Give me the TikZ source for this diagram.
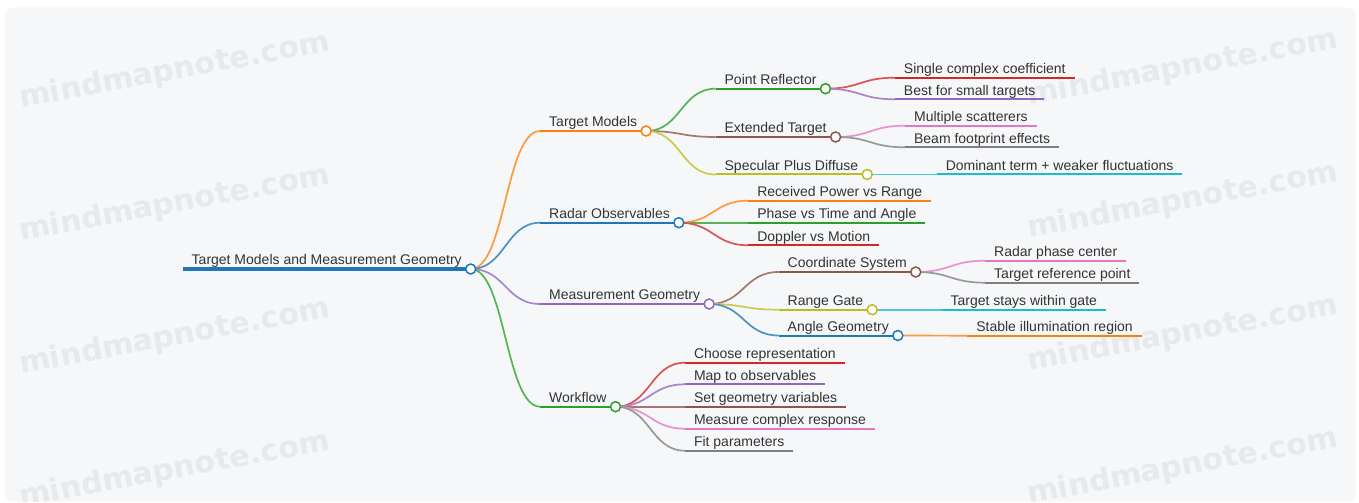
\documentclass[tikz,border=0pt]{standalone}
\usepackage{fontspec}
\setmainfont{Liberation Sans}
\newfontfamily\wmfont{DejaVu Sans}
\usetikzlibrary{calc}

% palette
\definecolor{c-blue}{HTML}{1F77B4}
\definecolor{c-orange}{HTML}{FF7F0E}
\definecolor{c-green}{HTML}{2CA02C}
\definecolor{c-red}{HTML}{D62728}
\definecolor{c-purple}{HTML}{9467BD}
\definecolor{c-brown}{HTML}{8C564B}
\definecolor{c-pink}{HTML}{E377C2}
\definecolor{c-gray}{HTML}{7F7F7F}
\definecolor{c-olive}{HTML}{BCBD22}
\definecolor{c-cyan}{HTML}{17BECF}
\definecolor{ink}{HTML}{333333}
\definecolor{paper}{HTML}{F6F7F9}
\definecolor{wmgray}{HTML}{E8E9EC}

\pgfdeclarelayer{front}
\pgfsetlayers{main,front}

\tikzset{
  mmtext/.style={anchor=base west, inner sep=0pt, outer sep=0pt,
    font=\fontsize{14bp}{16bp}\selectfont, text=ink},
  uline/.style={line width=2bp, line cap=butt},
  link/.style={line width=1.7bp},
  dot/.style={circle, draw, fill=white, line width=1.5bp,
    minimum size=10bp, inner sep=0pt},
  wm/.style={anchor=base west, inner sep=0pt, rotate=10.5, text=wmgray,
    font=\wmfont\fontsize{30bp}{32bp}\selectfont\bfseries},
}

% one topic: id, parent id, y of its underline, colour, label
\newcommand\mmtopic[5]{%
  \coordinate (#1-x) at ($(#2-c)+(69.5,0)$);
  \coordinate (#1-s) at (#1-x |- 0,#3);
  \node[mmtext] (#1) at ($(#1-s)+(9,-4.2)$) {#5};
  \coordinate (#1-t) at ($(#1.base east)+(9,0)$);
  \coordinate (#1-c) at (#1-t |- #1-s);
  \draw[link, draw=#4!80!white] let \p1=(#2-c), \p2=(#1-s) in
    (\p1) .. controls ({0.5*\x1+0.5*\x2},\y1) and ({0.5*\x1+0.5*\x2},\y2) .. (\p2);
  \draw[uline, draw=#4] (#1-s) -- (#1-c);
}
% knob at the end of a topic that has children
\newcommand\mmdot[2]{%
  \begin{pgfonlayer}{front}
    \node[dot, draw=#2] (#1-dot) at (#1-c) {};
  \end{pgfonlayer}%
}

\begin{document}
\begin{tikzpicture}[x=1bp, y=-1bp]
\useasboundingbox (0,0) rectangle (1359,503);

% canvas
\fill[paper, rounded corners=8bp] (5,7.5) rectangle (1356,501.5);
\begin{scope}
  \clip[rounded corners=8bp] (5,7.5) rectangle (1356,501.5);
  \foreach \r in {0,1,2,3} {
    \node[wm] (wm-l-\r) at (21,108+133*\r) {mindmapnote.com};
    \node[wm] (wm-r-\r) at (1029,105+133*\r) {mindmapnote.com};
  }
\end{scope}

% root
\coordinate (root-s) at (182.7,269);
\node[mmtext] (root) at ($(root-s)+(9,-4)$) {Target Models and Measurement Geometry};
\coordinate (root-t) at ($(root.base east)+(9,0)$);
\coordinate (root-c) at (root-t |- root-s);
\draw[line width=4bp, line cap=butt, draw=c-blue] (root-s) -- (root-c);

% target models
\mmtopic{tm}{root}{131}{c-orange}{Target Models}
\mmtopic{pr}{tm}{88.7}{c-green}{Point Reflector}
\mmtopic{scc}{pr}{77.7}{c-red}{Single complex coefficient}
\mmtopic{bst}{pr}{99.3}{c-purple}{Best for small targets}
\mmtopic{et}{tm}{137}{c-brown}{Extended Target}
\mmtopic{ms}{et}{125.7}{c-pink}{Multiple scatterers}
\mmtopic{bf}{et}{147.3}{c-gray}{Beam footprint effects}
\mmtopic{spd}{tm}{174.5}{c-olive}{Specular Plus Diffuse}
\mmtopic{dt}{spd}{174.5}{c-cyan}{Dominant term + weaker fluctuations}

% radar observables
\mmtopic{ro}{root}{222.7}{c-blue}{Radar Observables}
\mmtopic{rp}{ro}{200.7}{c-orange}{Received Power vs Range}
\mmtopic{pv}{ro}{222.7}{c-green}{Phase vs Time and Angle}
\mmtopic{dm}{ro}{245.3}{c-red}{Doppler vs Motion}

% measurement geometry
\mmtopic{mg}{root}{304}{c-purple}{Measurement Geometry}
\mmtopic{cs}{mg}{272}{c-brown}{Coordinate System}
\mmtopic{rpc}{cs}{260.7}{c-pink}{Radar phase center}
\mmtopic{trp}{cs}{282.7}{c-gray}{Target reference point}
\mmtopic{rg}{mg}{309.7}{c-olive}{Range Gate}
\mmtopic{tsg}{rg}{309.7}{c-cyan}{Target stays within gate}
\mmtopic{ag}{mg}{335.5}{c-blue}{Angle Geometry}
\mmtopic{sir}{ag}{335.7}{c-orange}{Stable illumination region}

% workflow
\mmtopic{wf}{root}{406.7}{c-green}{Workflow}
\mmtopic{cr}{wf}{362.7}{c-red}{Choose representation}
\mmtopic{mo}{wf}{384.3}{c-purple}{Map to observables}
\mmtopic{sg}{wf}{406.7}{c-brown}{Set geometry variables}
\mmtopic{mc}{wf}{428.7}{c-pink}{Measure complex response}
\mmtopic{fp}{wf}{450.7}{c-gray}{Fit parameters}

% knobs
\mmdot{root}{c-blue}
\mmdot{tm}{c-orange}
\mmdot{pr}{c-green}
\mmdot{et}{c-brown}
\mmdot{spd}{c-olive}
\mmdot{ro}{c-blue}
\mmdot{mg}{c-purple}
\mmdot{cs}{c-brown}
\mmdot{rg}{c-olive}
\mmdot{ag}{c-blue}
\mmdot{wf}{c-green}
\end{tikzpicture}
\end{document}
